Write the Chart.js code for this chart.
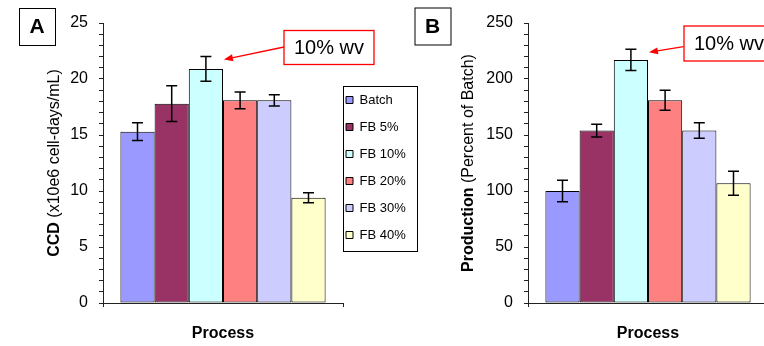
<!DOCTYPE html>
<html>
<head>
<meta charset="utf-8">
<script src="https://cdn.jsdelivr.net/npm/chart.js@4.4.1/dist/chart.umd.min.js"></script>
<style>
  html, body { margin: 0; padding: 0; background: #fff; overflow: hidden; }
  #wrap { position: relative; width: 764px; height: 346px; overflow: hidden; }
  canvas { position: absolute; top: 0; }
  #ccdChart { left: 0; }
  #prodChart { left: 380px; }
</style>
</head>
<body>
<div id="wrap">
  <canvas id="ccdChart" width="420" height="346"></canvas>
  <canvas id="prodChart" width="400" height="346"></canvas>
</div>
<script>
const processes = ['Batch', 'FB 5%', 'FB 10%', 'FB 20%', 'FB 30%', 'FB 40%'];
const barColors = ['#9999ff', '#993366', '#ccffff', '#ff8080', '#ccccff', '#ffffcc'];

const ccd = [15.3, 17.8, 20.9, 18.1, 18.1, 9.4];
const ccdErr = [0.8, 1.6, 1.1, 0.75, 0.5, 0.45];
const ccdTicks = [0, 5, 10, 15, 20, 25];

const production = [100, 154, 217, 181, 154, 107];
const productionErr = [9.5, 5.7, 9.5, 9, 7, 10.7];
const productionTicks = [0, 50, 100, 150, 200, 250];

const FONT = '"Liberation Sans", Arial, sans-serif';
Chart.defaults.font.family = FONT;
Chart.defaults.color = '#000';

// whiskers on top of each bar
const errorBars = {
  id: 'errorBars',
  afterDatasetsDraw(chart, args, opts) {
    const ctx = chart.ctx;
    const y = chart.scales.y;
    ctx.save();
    ctx.strokeStyle = '#000';
    ctx.lineWidth = 1.5;
    chart.data.datasets.forEach((ds, i) => {
      const bar = chart.getDatasetMeta(i).data[0];
      const v = ds.data[0];
      const e = opts.errors[i];
      const top = y.getPixelForValue(v + e);
      const bot = y.getPixelForValue(v - e);
      ctx.beginPath();
      ctx.moveTo(bar.x, top); ctx.lineTo(bar.x, bot);
      ctx.moveTo(bar.x - 5.5, top); ctx.lineTo(bar.x + 5.5, top);
      ctx.moveTo(bar.x - 5.5, bot); ctx.lineTo(bar.x + 5.5, bot);
      ctx.stroke();
    });
    ctx.restore();
  }
};

// rotated y title with a bold lead word
const yTitle = {
  id: 'yTitle',
  afterDraw(chart, args, opts) {
    const ctx = chart.ctx;
    const area = chart.chartArea;
    ctx.save();
    ctx.translate(opts.x, (area.top + area.bottom) / 2);
    ctx.rotate(-Math.PI / 2);
    ctx.fillStyle = '#000';
    ctx.textBaseline = 'middle';
    ctx.textAlign = 'left';
    ctx.font = 'bold 16px ' + FONT;
    const w1 = ctx.measureText(opts.bold).width;
    ctx.font = '16px ' + FONT;
    const w2 = ctx.measureText(opts.rest).width;
    let x = -(w1 + w2) / 2;
    ctx.font = 'bold 16px ' + FONT;
    ctx.fillText(opts.bold, x, 0);
    ctx.font = '16px ' + FONT;
    ctx.fillText(opts.rest, x + w1, 0);
    ctx.restore();
  }
};

// boxed panel letter
const panelTag = {
  id: 'panelTag',
  afterDraw(chart, args, opts) {
    const ctx = chart.ctx;
    const [x, y, w, h] = opts.box;
    ctx.save();
    ctx.strokeStyle = '#000';
    ctx.lineWidth = 1;
    ctx.strokeRect(x + 0.5, y + 0.5, w, h);
    ctx.fillStyle = '#000';
    ctx.font = 'bold 21px ' + FONT;
    ctx.textAlign = 'center';
    ctx.textBaseline = 'middle';
    ctx.fillText(opts.text, x + w / 2, y + h / 2 + 1);
    ctx.restore();
  }
};

// red note box with an arrow to the 10% bar
const callout = {
  id: 'callout',
  afterDraw(chart, args, opts) {
    const ctx = chart.ctx;
    const [x, y, w, h] = opts.box;
    const bar = chart.getDatasetMeta(opts.index).data[0];
    const ds = chart.data.datasets[opts.index];
    const tipX = bar.x + 18;
    const tipY = chart.scales.y.getPixelForValue(ds.data[0] + opts.err) + 3;
    const [fx, fy] = opts.from;
    ctx.save();
    ctx.fillStyle = '#fff';
    ctx.fillRect(x, y, w, h);
    ctx.strokeStyle = '#ff0000';
    ctx.lineWidth = 1.3;
    ctx.strokeRect(x, y, w, h);
    ctx.fillStyle = '#000';
    ctx.font = '20px ' + FONT;
    ctx.textAlign = 'center';
    ctx.textBaseline = 'middle';
    ctx.fillText(opts.text, x + w / 2, y + h / 2 + 1);
    const ang = Math.atan2(tipY - fy, tipX - fx);
    ctx.beginPath();
    ctx.moveTo(fx, fy);
    ctx.lineTo(tipX - 7 * Math.cos(ang), tipY - 7 * Math.sin(ang));
    ctx.stroke();
    ctx.fillStyle = '#ff0000';
    ctx.beginPath();
    ctx.moveTo(tipX, tipY);
    ctx.lineTo(tipX - 9 * Math.cos(ang) + 3.5 * Math.sin(ang), tipY - 9 * Math.sin(ang) - 3.5 * Math.cos(ang));
    ctx.lineTo(tipX - 9 * Math.cos(ang) - 3.5 * Math.sin(ang), tipY - 9 * Math.sin(ang) + 3.5 * Math.cos(ang));
    ctx.closePath();
    ctx.fill();
    ctx.restore();
  }
};

// move the legend beside the plot and frame it
const legendFrame = {
  id: 'legendFrame',
  afterLayout(chart, args, opts) {
    const lg = chart.legend;
    if (!lg || !lg.options.display) return;
    lg.left = opts.itemsAt[0];
    lg.top = opts.itemsAt[1];
    lg.width = 90;
    lg.height = 200;
    lg.right = lg.left + lg.width;
    lg.bottom = lg.top + lg.height;
  },
  afterDraw(chart, args, opts) {
    if (!opts.frame) return;
    const ctx = chart.ctx;
    const [x, y, w, h] = opts.frame;
    ctx.save();
    ctx.strokeStyle = '#000';
    ctx.lineWidth = 1;
    ctx.strokeRect(x + 0.5, y + 0.5, w, h);
    ctx.restore();
  }
};

function makeDatasets(values) {
  return processes.map((name, i) => ({
    label: name,
    data: [values[i]],
    backgroundColor: barColors[i],
    borderColor: '#000',
    borderWidth: 1,
    borderSkipped: false,
    categoryPercentage: 0.855,
    barPercentage: 1.0
  }));
}

function makeChart(canvasId, values, errors, tickList, step, cfg) {
  const max = tickList[tickList.length - 1];
  return new Chart(document.getElementById(canvasId), {
    type: 'bar',
    data: { labels: [''], datasets: makeDatasets(values) },
    options: {
      responsive: false,
      animation: false,
      layout: { padding: { left: 0, top: 23, right: cfg.padRight, bottom: 0 } },
      scales: {
        x: {
          type: 'category',
          offset: true,
          grid: { display: true, offset: true, drawOnChartArea: false, drawTicks: true, tickLength: 4, color: '#222' },
          border: { display: true, color: '#222', width: 1 },
          ticks: { display: false },
          title: { display: true, text: 'Process', font: { size: 16, weight: 'bold' }, padding: { top: 0, bottom: 3 } },
          afterFit(scale) { scale.height = 43; }
        },
        y: {
          min: 0,
          max: max,
          grid: { drawOnChartArea: false, drawTicks: true, tickLength: 4, color: '#222' },
          border: { display: true, color: '#222', width: 1 },
          ticks: {
            autoSkip: false,
            padding: 11,
            font: { size: 16 },
            callback: v => tickList.includes(Math.round(v)) ? Math.round(v) : ''
          },
          // minor tick every step, labels only on the major values
          afterBuildTicks(scale) {
            const n = Math.round(max / step);
            scale.ticks = Array.from({ length: n + 1 }, (_, i) => ({ value: i * step }));
          },
          afterFit(scale) { scale.width = cfg.axisWidth; }
        }
      },
      plugins: {
        legend: {
          display: cfg.legend,
          position: 'chartArea',
          align: 'start',
          labels: { boxWidth: 7, boxHeight: 7, padding: 14, color: '#000', font: { size: 13 } }
        },
        tooltip: { enabled: false },
        errorBars: { errors: errors },
        yTitle: cfg.yTitle,
        panelTag: cfg.tag,
        callout: Object.assign({ index: 2, err: errors[2], text: '10% wv' }, cfg.callout),
        legendFrame: cfg.legendFrame || {}
      }
    },
    plugins: [errorBars, yTitle, panelTag, callout, legendFrame]
  });
}

makeChart('ccdChart', ccd, ccdErr, ccdTicks, 1, {
  padRight: 77,
  axisWidth: 103,
  legend: true,
  legendFrame: { itemsAt: [332, 79.5], frame: [343, 86, 74, 165] },
  yTitle: { x: 54.5, bold: 'CCD', rest: ' (x10e6 cell-days/mL)' },
  tag: { box: [19, 8, 36, 37], text: 'A' },
  callout: { box: [284, 30.5, 90, 34], from: [284, 47] }
});

makeChart('prodChart', production, productionErr, productionTicks, 10, {
  padRight: 12,
  axisWidth: 148,
  legend: false,
  yTitle: { x: 89, bold: 'Production', rest: ' (Percent of Batch)' },
  tag: { box: [34.5, 7.5, 36, 37], text: 'B' },
  callout: { box: [304, 26, 90, 35], from: [303.5, 46.7] }
});
</script>
</body>
</html>
